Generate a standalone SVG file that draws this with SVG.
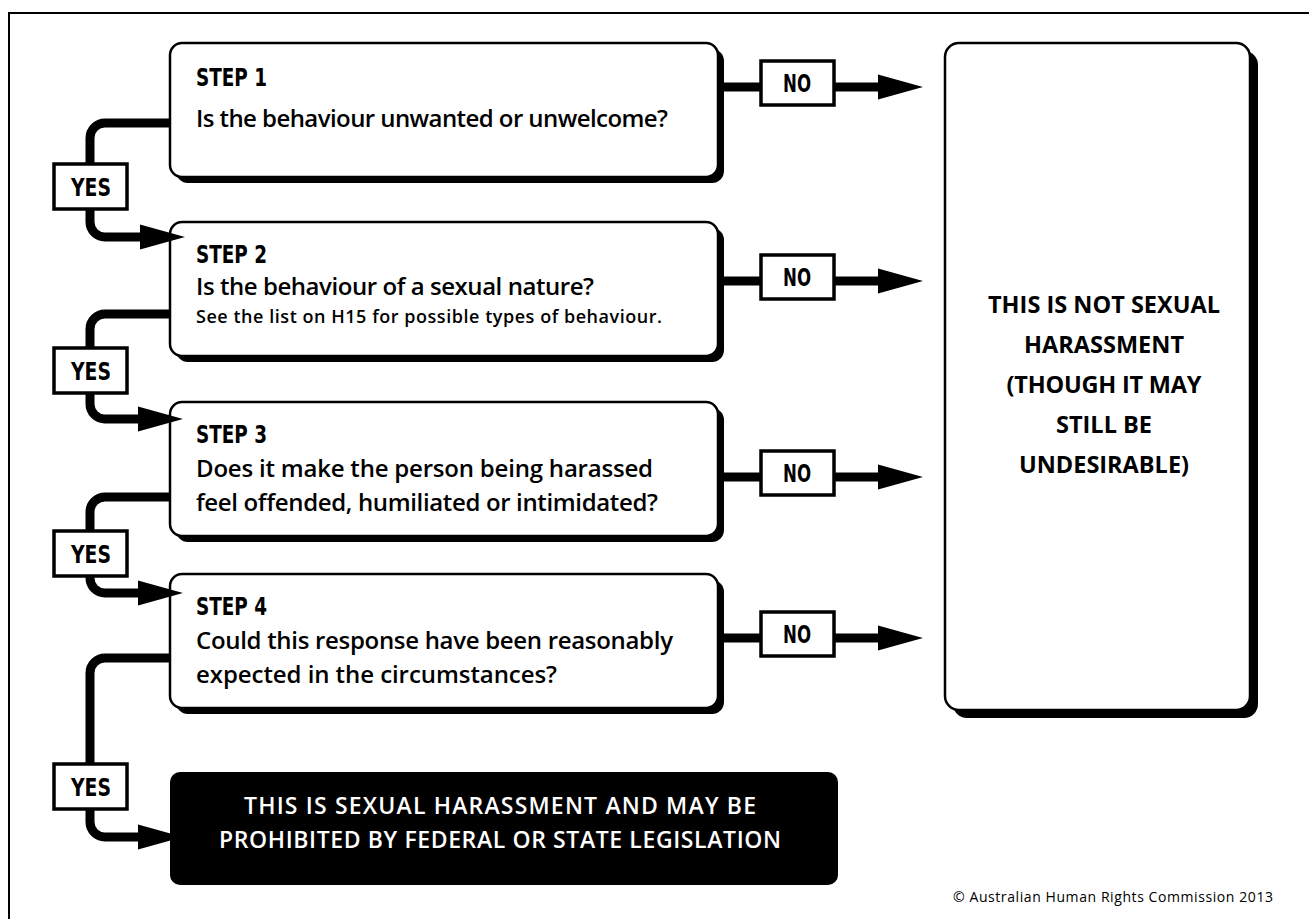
<svg xmlns="http://www.w3.org/2000/svg" xmlns:xlink="http://www.w3.org/1999/xlink" width="1309" height="919" viewBox="0 0 1309 919">
<style>
.frame{fill:none;stroke:#000;stroke-width:2}
.box{fill:#fff;stroke:#000;stroke-width:2.5}
.shadow{fill:#000}
.conn{fill:none;stroke:#000;stroke-width:9}
.tag{fill:#fff;stroke:#000;stroke-width:3.5}
.tagtxt{font-family:"DejaVu Sans Condensed","DejaVu Sans",sans-serif;font-weight:bold;font-size:24px;fill:#000;text-anchor:middle}
.step{font-family:"DejaVu Sans Condensed","DejaVu Sans",sans-serif;font-weight:bold;font-size:24px;fill:#000}
.body{font-family:"Open Sans","Noto Sans",sans-serif;font-weight:600;font-size:24px;fill:#000}
.small{font-family:"Open Sans","Noto Sans",sans-serif;font-weight:600;font-size:18px;fill:#000}
.big{font-family:"Open Sans","Noto Sans",sans-serif;font-weight:bold;font-size:23.5px;fill:#000;text-anchor:middle}
.res{font-family:"Open Sans","Noto Sans",sans-serif;font-weight:600;font-size:23px;fill:#fff;text-anchor:middle}
.copy{font-family:"Open Sans","Noto Sans",sans-serif;font-size:14px;fill:#000}
</style>
<defs>
<path id="ah" d="M0,0 L-45,-12.5 L-45,12.5 Z" fill="#000"/>
</defs>
<path class="frame" d="M9,919 V13 H1309"/>

<g id="step1">
<rect class="shadow" x="176" y="49" width="548" height="134" rx="12"/>
<rect class="box" x="170" y="43" width="548" height="134" rx="12"/>
<text class="step" x="196" y="86" textLength="71" lengthAdjust="spacingAndGlyphs">STEP 1</text>
<text class="body" x="196" y="127" textLength="472">Is the behaviour unwanted or unwelcome?</text>
</g>
<g id="step2">
<rect class="shadow" x="176" y="228" width="548" height="134" rx="12"/>
<rect class="box" x="170" y="222" width="548" height="134" rx="12"/>
<text class="step" x="196" y="263" textLength="71" lengthAdjust="spacingAndGlyphs">STEP 2</text>
<text class="body" x="196" y="295" textLength="398">Is the behaviour of a sexual nature?</text>
<text class="small" x="196" y="323" textLength="466">See the list on H15 for possible types of behaviour.</text>
</g>
<g id="step3">
<rect class="shadow" x="176" y="408" width="548" height="134" rx="12"/>
<rect class="box" x="170" y="402" width="548" height="134" rx="12"/>
<text class="step" x="196" y="443" textLength="71" lengthAdjust="spacingAndGlyphs">STEP 3</text>
<text class="body" x="196" y="477" textLength="457">Does it make the person being harassed</text>
<text class="body" x="196" y="511" textLength="462">feel offended, humiliated or intimidated?</text>
</g>
<g id="step4">
<rect class="shadow" x="176" y="580" width="548" height="134" rx="12"/>
<rect class="box" x="170" y="574" width="548" height="134" rx="12"/>
<text class="step" x="196" y="615" textLength="71" lengthAdjust="spacingAndGlyphs">STEP 4</text>
<text class="body" x="196" y="649" textLength="477">Could this response have been reasonably</text>
<text class="body" x="196" y="683" textLength="361">expected in the circumstances?</text>
</g>

<g id="not-harassment">
<rect class="shadow" x="953" y="51" width="305" height="667" rx="14"/>
<rect class="box" x="945" y="43" width="305" height="667" rx="14"/>
<text class="big" x="1104" y="313" textLength="232">THIS IS NOT SEXUAL</text>
<text class="big" x="1104" y="353" textLength="160">HARASSMENT</text>
<text class="big" x="1104" y="393" textLength="195">(THOUGH IT MAY</text>
<text class="big" x="1104" y="433" textLength="96">STILL BE</text>
<text class="big" x="1104" y="473">UNDESIRABLE)</text>
</g>

<g id="connectors">
<path class="conn" d="M718,87 H880"/>
<path class="conn" d="M718,281 H880"/>
<path class="conn" d="M718,477 H880"/>
<path class="conn" d="M718,638 H880"/>
<use xlink:href="#ah" href="#ah" transform="translate(923,87)"/>
<use xlink:href="#ah" href="#ah" transform="translate(923,281)"/>
<use xlink:href="#ah" href="#ah" transform="translate(923,477)"/>
<use xlink:href="#ah" href="#ah" transform="translate(923,638)"/>
<path class="conn" d="M171,123 H105 A15,15 0 0 0 90,138 V222 A15,15 0 0 0 105,237 H142"/>
<path class="conn" d="M171,314 H105 A15,15 0 0 0 90,329 V404 A15,15 0 0 0 105,419 H142"/>
<path class="conn" d="M171,497 H105 A15,15 0 0 0 90,512 V578 A15,15 0 0 0 105,593 H142"/>
<path class="conn" d="M171,658 H105 A15,15 0 0 0 90,673 V822 A15,15 0 0 0 105,837 H142"/>
<use xlink:href="#ah" href="#ah" transform="translate(185,237)"/>
<use xlink:href="#ah" href="#ah" transform="translate(183,419)"/>
<use xlink:href="#ah" href="#ah" transform="translate(183,593)"/>
<use xlink:href="#ah" href="#ah" transform="translate(183,837)"/>
</g>

<g id="no1"><rect class="tag" x="761" y="61" width="73" height="44"/><text class="tagtxt" x="797" y="92" textLength="28" lengthAdjust="spacingAndGlyphs">NO</text></g>
<g id="no2"><rect class="tag" x="761" y="255" width="73" height="44"/><text class="tagtxt" x="797" y="286" textLength="28" lengthAdjust="spacingAndGlyphs">NO</text></g>
<g id="no3"><rect class="tag" x="761" y="451" width="73" height="44"/><text class="tagtxt" x="797" y="482" textLength="28" lengthAdjust="spacingAndGlyphs">NO</text></g>
<g id="no4"><rect class="tag" x="761" y="612" width="73" height="44"/><text class="tagtxt" x="797" y="643" textLength="28" lengthAdjust="spacingAndGlyphs">NO</text></g>

<g id="yes1"><rect class="tag" x="54" y="164" width="73" height="45"/><text class="tagtxt" x="91" y="196" textLength="40" lengthAdjust="spacingAndGlyphs">YES</text></g>
<g id="yes2"><rect class="tag" x="54" y="348" width="73" height="45"/><text class="tagtxt" x="91" y="380" textLength="40" lengthAdjust="spacingAndGlyphs">YES</text></g>
<g id="yes3"><rect class="tag" x="54" y="531" width="73" height="45"/><text class="tagtxt" x="91" y="563" textLength="40" lengthAdjust="spacingAndGlyphs">YES</text></g>
<g id="yes4"><rect class="tag" x="54" y="764" width="73" height="45"/><text class="tagtxt" x="91" y="796" textLength="40" lengthAdjust="spacingAndGlyphs">YES</text></g>

<g id="harassment">
<rect x="170" y="772" width="668" height="113" rx="10" fill="#000"/>
<text class="res" x="500" y="814" textLength="512">THIS IS SEXUAL HARASSMENT AND MAY BE</text>
<text class="res" x="500" y="848" textLength="562">PROHIBITED BY FEDERAL OR STATE LEGISLATION</text>
</g>

<text class="copy" x="953" y="902" textLength="320">© Australian Human Rights Commission 2013</text>
</svg>
